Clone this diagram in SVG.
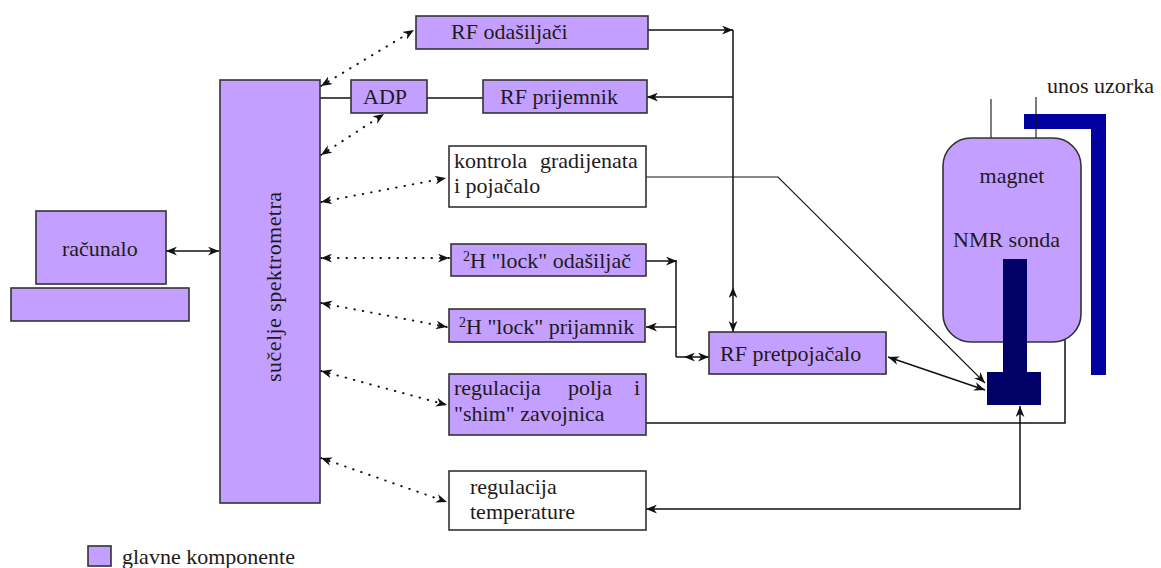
<svg xmlns="http://www.w3.org/2000/svg" width="1161" height="568" viewBox="0 0 1161 568">
<style>
.box{fill:#C3A0FF;stroke:#333;stroke-width:1.6}
.wbox{fill:#fff;stroke:#333;stroke-width:1.6}
.t{font-family:'Liberation Serif','DejaVu Serif',serif;font-size:22px;fill:#221a1a}
.ln{fill:none;stroke:#111;stroke-width:1.5}
.thin{fill:none;stroke:#111;stroke-width:1.1}
.dot{fill:none;stroke:#111;stroke-width:2;stroke-dasharray:0.5 8;stroke-linecap:round}
.sup{font-size:14px}
</style>
<defs>
<marker id="ah" viewBox="0 0 10 8" refX="10" refY="4" markerWidth="11" markerHeight="9" orient="auto-start-reverse" markerUnits="userSpaceOnUse">
<path d="M0,0 L10,4 L0,8 L3,4 Z" fill="#111"/>
</marker>
</defs>
<rect width="1161" height="568" fill="#fff"/>

<g id="connectors">
<line class="ln" x1="166" y1="251" x2="219" y2="251" marker-start="url(#ah)" marker-end="url(#ah)"/>
<line class="ln" x1="648" y1="30" x2="733" y2="30" marker-end="url(#ah)"/>
<line class="ln" x1="733" y1="30" x2="733" y2="287"/>
<line class="ln" x1="733" y1="287" x2="733" y2="332" marker-start="url(#ah)" marker-end="url(#ah)"/>
<line class="ln" x1="733" y1="97" x2="647" y2="97" marker-end="url(#ah)"/>
<line class="ln" x1="320" y1="98" x2="351" y2="98"/>
<line class="ln" x1="427" y1="98" x2="483" y2="98"/>
<polyline class="thin" points="646,177 778,177 985,383" marker-end="url(#ah)"/>
<line class="ln" x1="646" y1="261" x2="677" y2="261" marker-end="url(#ah)"/>
<line class="ln" x1="676" y1="261" x2="676" y2="357"/>
<line class="ln" x1="676" y1="327" x2="646" y2="327" marker-end="url(#ah)"/>
<line class="ln" x1="676" y1="357" x2="684" y2="357"/>
<line class="ln" x1="684" y1="357" x2="709" y2="357" marker-start="url(#ah)" marker-end="url(#ah)"/>
<line class="ln" x1="888" y1="357" x2="985" y2="390" marker-start="url(#ah)" marker-end="url(#ah)"/>
<polyline class="ln" points="646,423 1065,423 1065,298 1028,298" marker-end="url(#ah)"/>
<polyline class="ln" points="646,509 1020,509 1020,406" marker-start="url(#ah)" marker-end="url(#ah)"/>
<line class="dot" x1="321" y1="86" x2="414" y2="30" marker-start="url(#ah)" marker-end="url(#ah)"/>
<line class="dot" x1="321" y1="155" x2="384" y2="114" marker-start="url(#ah)" marker-end="url(#ah)"/>
<line class="dot" x1="321" y1="202" x2="446" y2="178" marker-start="url(#ah)" marker-end="url(#ah)"/>
<line class="dot" x1="321" y1="258" x2="449" y2="258" marker-start="url(#ah)" marker-end="url(#ah)"/>
<line class="dot" x1="321" y1="303" x2="447" y2="327" marker-start="url(#ah)" marker-end="url(#ah)"/>
<line class="dot" x1="321" y1="371" x2="447" y2="405" marker-start="url(#ah)" marker-end="url(#ah)"/>
<line class="dot" x1="321" y1="458" x2="447" y2="502" marker-start="url(#ah)" marker-end="url(#ah)"/>
</g>

<g id="racunalo">
<rect class="box" x="36" y="211" width="130" height="73"/>
<rect class="box" x="11" y="288" width="178" height="33"/>
<text class="t" x="62" y="256">računalo</text>
</g>

<g id="sucelje">
<rect class="box" x="220" y="80" width="100" height="423"/>
<text class="t" transform="translate(281,287) rotate(-90)" text-anchor="middle" textLength="190">sučelje spektrometra</text>
</g>

<g id="rf-odasiljaci">
<rect class="box" x="416" y="16" width="232" height="33"/>
<text class="t" x="451" y="39">RF odašiljači</text>
</g>

<g id="adp">
<rect class="box" x="351" y="80" width="76" height="33"/>
<text class="t" x="363" y="104">ADP</text>
</g>

<g id="rf-prijemnik">
<rect class="box" x="483" y="80" width="164" height="33"/>
<text class="t" x="500" y="104">RF prijemnik</text>
</g>

<g id="kontrola">
<rect class="wbox" x="449" y="146" width="197" height="61"/>
<text class="t" x="454" y="168">kontrola <tspan x="540">gradijenata</tspan></text>
<text class="t" x="454" y="193">i pojačalo</text>
</g>

<g id="lock-odasiljac">
<rect class="box" x="451" y="244" width="195" height="32"/>
<text class="t" x="463" y="268"><tspan class="sup" dy="-7">2</tspan><tspan dy="7">H "lock" odašiljač</tspan></text>
</g>

<g id="lock-prijamnik">
<rect class="box" x="449" y="309" width="196" height="33"/>
<text class="t" x="459" y="334"><tspan class="sup" dy="-7">2</tspan><tspan dy="7">H "lock" prijamnik</tspan></text>
</g>

<g id="rf-pretpojacalo">
<rect class="box" x="709" y="332" width="177" height="42"/>
<text class="t" x="720" y="361">RF pretpojačalo</text>
</g>

<g id="regulacija-polja">
<rect class="box" x="449" y="374" width="197" height="61"/>
<text class="t" y="395"><tspan x="454">regulacija</tspan><tspan x="568">polja</tspan><tspan x="634">i</tspan></text>
<text class="t" x="454" y="421">"shim" zavojnica</text>
</g>

<g id="regulacija-temperature">
<rect class="wbox" x="449" y="471" width="197" height="59"/>
<text class="t" x="470" y="494">regulacija</text>
<text class="t" x="470" y="519">temperature</text>
</g>

<g id="magnet">
<line class="thin" x1="991" y1="99" x2="991" y2="138"/>
<rect x="1024" y="114" width="82" height="15" fill="#0000A0"/>
<rect x="1091" y="114" width="15" height="261" fill="#0000A0"/>
<line class="thin" x1="1036" y1="97" x2="1036" y2="138"/>
<rect class="box" x="943" y="138" width="138" height="204" rx="28"/>
<text class="t" x="1012" y="183" text-anchor="middle">magnet</text>
<text class="t" x="953" y="247">NMR sonda</text>
<text class="t" x="1047" y="93">unos uzorka</text>
</g>

<g id="nmr-sonda">
<rect x="1003" y="259" width="24" height="114" fill="#000066"/>
<rect x="987" y="372" width="54" height="33" fill="#000066"/>
</g>

<g id="legenda">
<rect class="box" x="88" y="546" width="23" height="20"/>
<text class="t" x="122" y="564">glavne komponente</text>
</g>
</svg>
